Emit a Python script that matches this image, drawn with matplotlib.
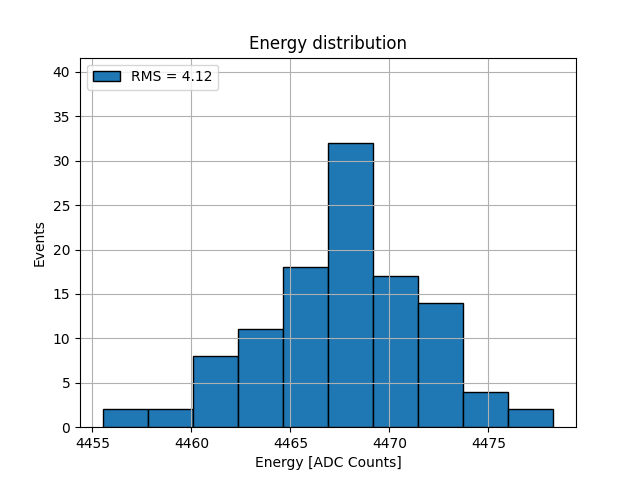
import matplotlib
matplotlib.use('Agg')
import matplotlib.pyplot as plt
import numpy as np

# histogram
bin_edges = np.linspace(4455.51, 4478.29, 11)
counts = [2, 2, 8, 11, 18, 32, 17, 14, 4, 2]
rms = 4.12

fig, ax = plt.subplots(figsize=(6.4, 4.8), dpi=100)
ax.hist(bin_edges[:-1], bins=bin_edges, weights=counts,
        edgecolor='black', color='#1f77b4', label=f'RMS = {rms:.2f}')
ax.set_ylim(0, max(counts) * 1.3)
ax.set_xlabel('Energy [ADC Counts]')
ax.set_ylabel('Events')
ax.set_title('Energy distribution')
ax.grid(True)
ax.legend(loc='upper left')
fig.savefig('out.png')
